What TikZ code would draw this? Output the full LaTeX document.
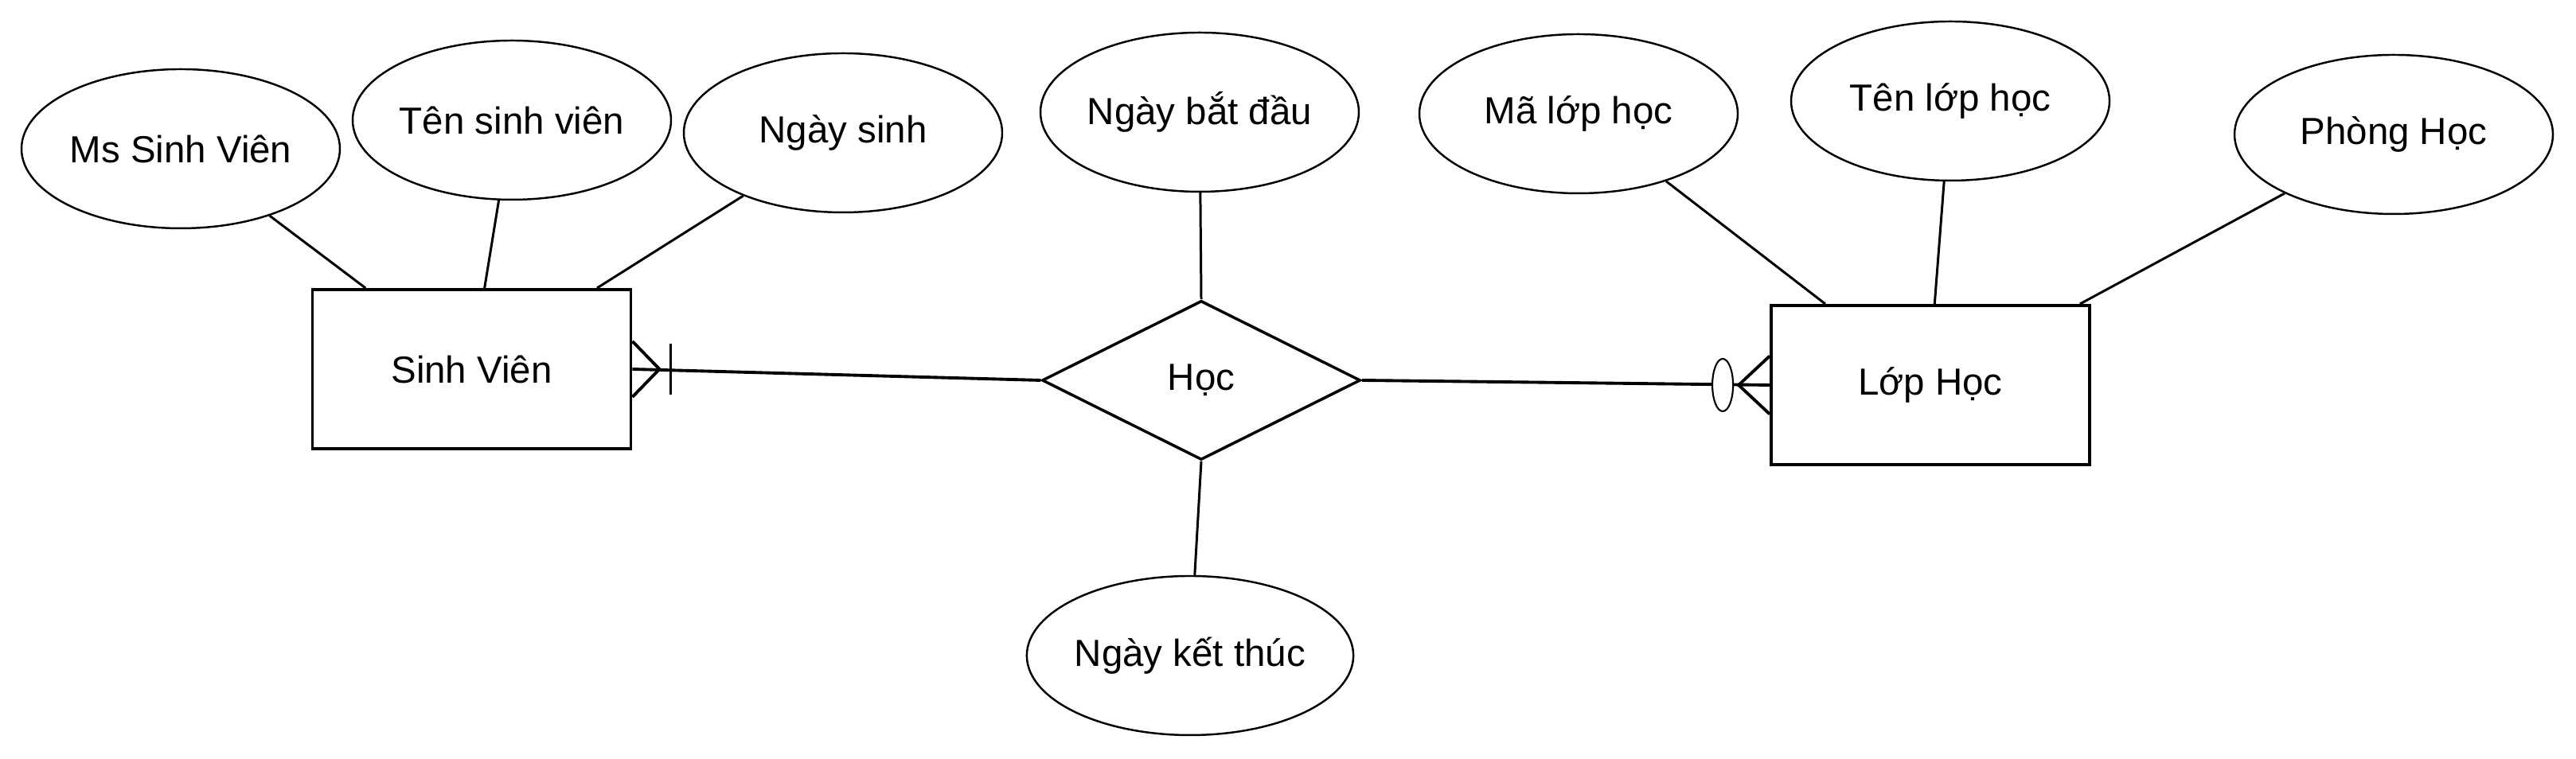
\documentclass[tikz,border=0pt]{standalone}
\usepackage{fontspec}
\setmainfont{Liberation Sans}
\usetikzlibrary{shapes.geometric,calc}
\begin{document}
\begin{tikzpicture}[
        entity/.style={rectangle, draw, line width=1.1pt, minimum width=4cm, minimum height=2cm, font=\fontsize{13.5}{16}\selectfont},
        attribute/.style={ellipse, draw, line width=0.7pt, fill=white, minimum width=4cm, minimum height=2cm, inner sep=0pt, font=\fontsize{13.5}{16}\selectfont},
        relation/.style={diamond, draw, line width=1pt, aspect=2, minimum width=4cm, minimum height=2cm, inner sep=0pt, font=\fontsize{13.5}{16}\selectfont},
        attr edge/.style={draw, line width=0.85pt},
        rel edge/.style={draw, line width=1.1pt},
    ]
	\path[fill=white] (0,0) rectangle (32.36,9.54);
	\useasboundingbox (0,0) rectangle (32.36,9.54);
	\node[entity] (sv) at (5.925,4.90) {Sinh Viên};
	\node[entity] (lh) at (24.25,4.70) {Lớp Học};
	\node[relation] (hoc) at (15.09,4.76) {Học};
	\node[attribute] (ms_sv) at (2.27,7.67) {Ms Sinh Viên};
	\node[attribute] (ten_sv) at (6.43,8.03) {Tên sinh viên};
	\node[attribute] (ngay_sinh) at (10.59,7.87) {Ngày sinh};
	\node[attribute] (ngay_bd) at (15.07,8.13) {Ngày bắt đầu};
	\node[attribute] (ngay_kt) at (14.95,1.30) {Ngày kết thúc};
	\node[attribute] (ma_lh) at (19.83,8.11) {Mã lớp học};
	\node[attribute] (ten_lh) at (24.50,8.27) {Tên lớp học};
	\node[attribute] (phong) at (30.07,7.85) {Phòng Học};
	\draw[attr edge] (ms_sv) -- ($(sv.north west)!0.17!(sv.north east)$);
	\draw[attr edge] (ten_sv) -- ($(sv.north west)!0.54!(sv.north east)$);
	\draw[attr edge] (ngay_sinh) -- ($(sv.north west)!0.89!(sv.north east)$);
	\draw[attr edge] (ma_lh) -- ($(lh.north west)!0.173!(lh.north east)$);
	\draw[attr edge] (ten_lh) -- ($(lh.north west)!0.513!(lh.north east)$);
	\draw[attr edge] (phong) -- ($(lh.north west)!0.965!(lh.north east)$);
	\draw[attr edge] (ngay_bd) -- (hoc.north);
	\draw[attr edge] (hoc.south) -- (ngay_kt);
	\draw[rel edge] (hoc.west) -- (sv.east);
	\draw[rel edge] (hoc.east) -- (lh.west);
	% one or many
	\draw[rel edge] (sv.east) ++(0,0.35) -- ++(0.34,-0.35) -- ++(-0.34,-0.35);
	\draw[rel edge] (sv.east) ++(0.48,0.32) -- ++(0,-0.64);
	% zero or many
	\draw[rel edge] (lh.west) ++(0,0.365) -- ++(-0.39,-0.365) -- ++(0.39,-0.365);
	\draw[line width=0.6pt, fill=white] (lh.west) ++(-0.59,0) ellipse (0.13 and 0.33);
    \end{tikzpicture}
\end{document}
